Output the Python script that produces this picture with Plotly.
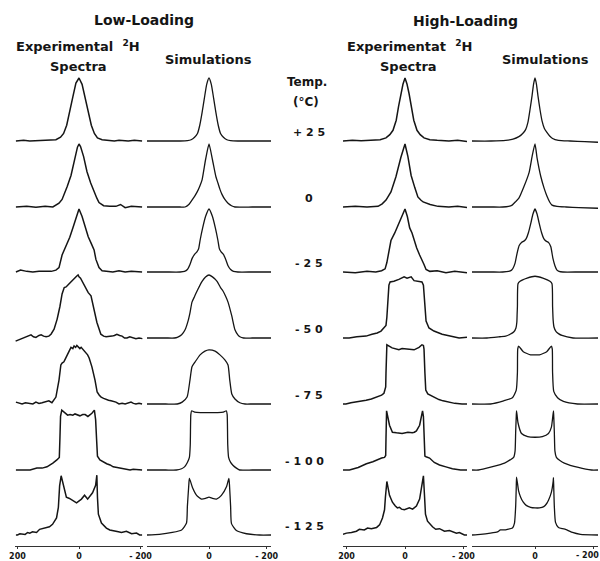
import plotly.graph_objects as go

# ---------------- data (frequency in kHz, normalised intensity) ----------------
TEMPS_C = ["+25", "0", "-25", "-50", "-75", "-100", "-125"]

# Low-loading, experimental 2H spectra
LE1_F = [205, 180, 160, 130, 95, 75, 60, 50, 40, 30, 20, 10, 0, -10, -20, -30, -40, -50, -60, -75, -95, -115, -130, -160, -180, -205]
LE1_H = [0, .01, .0, .01, .01, .02, .06, .12, .25, .45, .7, .92, 1, .9, .68, .45, .25, .12, .05, .02, .01, .0, .01, .0, .01, 0]
LE2_F = [205, 170, 140, 110, 85, 65, 55, 49, 38, 26, 15, 5, 0, -5, -15, -26, -38, -49, -58, -65, -80, -100, -120, -135, -150, -170, -205]
LE2_H = [0, .01, -.005, .01, .0, .06, .12, .19, .33, .5, .75, .95, 1, .96, .8, .56, .38, .24, .14, .07, .02, .01, .01, .04, -.01, .01, 0]
LE3_F = [205, 190, 170, 150, 130, 110, 90, 75, 65, 55, 42, 30, 20, 10, 0, -10, -20, -30, -40, -49, -55, -65, -75, -90, -110, -130, -150, -170, -205]
LE3_H = [0, .03, .01, 0, .01, .01, .01, .03, .07, .27, .42, .55, .7, .87, 1, .88, .72, .56, .45, .35, .2, .07, .02, .01, 0, .02, 0, .01, 0]
LE4_F = [206, 201, 190, 179, 169, 156, 148, 140, 130, 123, 115, 107, 98, 91, 81, 71, 62, 55, 48, 42, 32, 25, 16, 8, 3, 0, -5, -10, -16, -23,
         -30, -39, -49, -58, -71, -80, -88, -98, -107, -115, -123, -132, -140, -148, -156, -165, -172, -185, -195, -206]
LE4_H = [-.05, -.04, -.01, .01, .03, .05, .02, .01, .04, .05, .03, .02, .03, .06, .14, .3, .5, .7, .8, .81, .86, .9, .94, .98, 1, .97, .95, .9, .84, .78,
         .72, .67, .46, .25, .06, .03, .02, .02, .03, .04, .06, .04, .03, 0, 0, .02, .01, -.01, 0, -.01]
LE5_F = [205, 195, 185, 174, 163, 150, 140, 130, 120, 108, 98, 88, 75, 65, 59, 55, 49, 44, 39, 32, 26, 20, 16, 11, 7, 2, -3, -7, -12, -16,
         -23, -28, -33, -42, -52, -59, -66, -72, -80, -88, -96, -104, -112, -120, -130, -140, -150, -160, -169, -177, -185, -195, -205]
LE5_H = [.03, .01, 0, .02, .01, 0, .03, .01, .02, .03, .05, .02, .11, .38, .62, .65, .67, .72, .78, .84, .9, .88, .92, .9, .93, .9, .88, .9, .87, .84,
         .8, .78, .73, .59, .38, .19, .14, .11, .09, .07, .06, .05, .04, .03, 0, .01, 0, .02, .03, .01, 0, .01, 0]
LE6_F = [205, 198, 182, 159, 137, 120, 104, 94, 85, 72, 64, 62, 60, 56, 45, 37, 29, 20, 13, 5, -3, -12, -20, -29, -36, -42, -50, -54, -57, -60,
         -68, -78, -90, -101, -111, -124, -143, -166, -176, -192, -205]
LE6_H = [0, 0, .01, 0, .03, .03, .05, .08, .11, .16, .2, .5, .85, .95, .9, .87, .88, .87, .89, .87, .86, .88, .88, .85, .87, .9, .95, .8, .5, .22,
         .16, .13, .1, .08, .05, .04, .02, 0, .01, 0, 0]
LE7_F = [205, 200, 192, 184, 175, 167, 160, 151, 138, 128, 119, 107, 96, 86, 73, 67, 63, 58, 47, 41, 31, 21, 8, -8, -18, -28, -44, -54, -58, -60,
         -63, -73, -89, -100, -115, -128, -138, -154, -171, -187, -197, -205]
LE7_H = [0, 0, .02, .02, .01, .04, .03, .05, .04, .09, .1, .11, .13, .17, .27, .44, .78, .94, .71, .6, .58, .55, .51, .57, .63, .57, .67, .79, .95, .6,
         .33, .19, .11, .08, .07, .05, .04, .06, .02, .03, 0, 0]

# Low-loading, simulations
LS1_F = [215, 150, 100, 75, 62, 50, 40, 32, 24, 16, 8, 0, -8, -16, -24, -32, -40, -50, -62, -75, -100, -150, -215]
LS1_H = [0, 0, 0, .005, .02, .06, .12, .25, .45, .68, .9, 1, .9, .68, .45, .25, .12, .06, .02, .005, 0, 0, 0]
LS2_F = [215, 150, 100, 83, 70, 59, 50, 41, 32, 24, 12, 0, -12, -24, -31, -38, -45, -55, -66, -78, -90, -150, -215]
LS2_H = [0, 0, 0, 0, .04, .11, .17, .24, .33, .43, .75, 1, .75, .48, .38, .28, .2, .12, .06, .02, 0, 0, 0]
LS3_F = [215, 150, 100, 85, 75, 66, 58, 50, 42, 36, 31, 22, 12, 0, -12, -22, -31, -36, -42, -50, -58, -66, -75, -85, -100, -150, -215]
LS3_H = [0, 0, 0, .01, .04, .12, .22, .28, .32, .37, .5, .7, .88, 1, .88, .7, .5, .37, .32, .28, .2, .1, .04, .01, 0, 0, 0]
LS4_F = [215, 150, 120, 110, 95, 83, 72, 66, 59, 50, 41, 24, 12, 0, -12, -28, -40, -48, -58, -66, -79, -90, -100, -107, -120, -150, -215]
LS4_H = [0, 0, 0, .01, .05, .13, .28, .4, .57, .66, .75, .9, .97, 1, .97, .9, .8, .75, .66, .57, .35, .13, .05, .02, 0, 0, 0]
LS5_F = [215, 150, 110, 93, 76, 66, 59, 48, 31, 14, 0, -21, -38, -55, -66, -72, -79, -90, -107, -125, -150, -215]
LS5_H = [0, 0, 0, .03, .11, .38, .59, .67, .78, .84, .86, .84, .78, .7, .62, .38, .16, .08, .02, 0, 0, 0]
LS6_F = [215, 150, 113, 95, 85, 75, 68, 65, 64, 63, 60, 50, 30, 0, -30, -50, -60, -63, -64, -65, -68, -75, -82, -95, -106, -150, -215]
LS6_H = [0, 0, 0, .02, .05, .12, .2, .4, .7, .88, .94, .92, .91, .91, .91, .92, .94, .88, .7, .4, .2, .12, .08, .03, 0, 0, 0]
LS7_F = [215, 172, 127, 95, 78, 75, 70, 68, 57, 43, 26, 12, 0, -12, -26, -43, -61, -69, -71, -75, -78, -95, -130, -175, -215]
LS7_H = [0, .01, .04, .08, .19, .45, .8, .9, .75, .63, .57, .58, .6, .58, .57, .63, .77, .9, .8, .45, .18, .07, .02, 0, 0]

# High-loading, experimental 2H spectra
HE1_F = [212, 180, 150, 110, 85, 65, 52, 41, 30, 22, 14, 7, 0, -7, -14, -22, -30, -41, -52, -65, -85, -110, -150, -180, -212]
HE1_H = [0, .01, .005, .01, .02, .05, .1, .17, .33, .55, .75, .9, 1, .9, .75, .55, .33, .17, .1, .05, .02, .01, 0, .01, -.01]
HE2_F = [212, 170, 130, 110, 92, 78, 65, 48, 31, 14, 0, -10, -21, -34, -44, -54, -62, -86, -113, -150, -180, -212]
HE2_H = [0, .01, 0, .01, .01, .05, .11, .24, .48, .79, 1, .8, .5, .3, .16, .11, .08, .04, .01, 0, .01, -.01]
HE3_F = [212, 170, 130, 100, 80, 68, 62, 55, 48, 35, 20, 8, 0, -8, -16, -24, -31, -40, -50, -58, -65, -72, -85, -110, -140, -170, -212]
HE3_H = [0, -.01, .01, 0, .02, .05, .15, .3, .5, .62, .78, .93, 1, .88, .7, .62, .5, .38, .27, .2, .12, .04, .01, .02, -.01, .01, -.01]
HE4_F = [212, 191, 165, 133, 113, 95, 82, 72, 65, 62, 60, 58, 55, 51, 38, 21, 3, -7, -21, -31, -41, -58, -63, -66, -68, -72, -82, -99, -127, -161, -185, -212]
HE4_H = [0, 0, .02, .03, .06, .08, .11, .16, .2, .33, .5, .65, .84, .89, .9, .93, .97, .95, .97, .91, .9, .89, .84, .65, .5, .27, .16, .11, .06, .03, 0, .01]
HE5_F = [212, 202, 185, 168, 150, 133, 115, 99, 80, 72, 66, 65, 64, 62, 44, 30, 21, 10, -3, -15, -31, -48, -58, -63, -65, -68, -71, -78, -89, -100,
         -116, -130, -150, -170, -195, -212]
HE5_H = [0, 0, .02, .03, .04, .06, .08, .11, .14, .17, .27, .49, .85, .94, .89, .87, .86, .88, .87, .87, .86, .9, .94, .93, .87, .5, .22, .16, .13, .1,
         .07, .05, .03, .01, 0, 0]
HE6_F = [212, 190, 160, 132, 110, 97, 80, 70, 66, 65, 64, 63, 53, 43, 29, 10, -10, -25, -32, -39, -50, -60, -63, -65, -66, -68, -72, -84, -100, -118,
         -140, -162, -190, -212]
HE6_H = [0, 0, .04, .1, .13, .16, .19, .2, .23, .5, .85, .94, .71, .6, .59, .58, .6, .59, .6, .62, .71, .94, .85, .5, .3, .22, .21, .19, .12, .08,
         .05, .02, 0, 0]
HE7_F = [212, 200, 183, 166, 156, 139, 128, 115, 97, 87, 77, 70, 67, 62, 53, 43, 33, 26, 19, 12, 2, -8, -15, -26, -39, -50, -56, -63, -67, -70,
         -77, -94, -105, -118, -135, -152, -176, -186, -203, -212]
HE7_H = [.01, .03, .04, .06, .09, .08, .11, .1, .12, .16, .27, .4, .6, .85, .63, .52, .46, .43, .44, .41, .4, .42, .43, .41, .46, .57, .75, .94, .6, .33,
         .22, .13, .09, .1, .06, .07, .03, .04, 0, 0]

# High-loading, simulations
HS1_F = [215, 150, 100, 75, 55, 42, 32, 24, 17, 10, 5, 0, -5, -10, -17, -24, -32, -40, -50, -60, -80, -120, -170, -215]
HS1_H = [0, 0, .01, .03, .07, .12, .18, .3, .5, .72, .9, 1, .9, .72, .5, .32, .2, .14, .08, .04, .01, 0, -.01, -.02]
HS2_F = [215, 150, 110, 90, 78, 65, 55, 38, 20, 10, 0, -7, -20, -31, -41, -50, -58, -75, -106, -150, -215]
HS2_H = [0, 0, 0, .01, .03, .09, .14, .32, .55, .8, 1, .78, .48, .3, .17, .08, .03, .01, 0, -.01, -.02]
HS3_F = [215, 150, 110, 90, 80, 75, 68, 61, 54, 46, 38, 30, 22, 14, 7, 0, -7, -14, -22, -30, -38, -46, -54, -61, -68, -75, -82, -95, -150, -215]
HS3_H = [0, 0, 0, .01, .03, .06, .14, .3, .42, .47, .49, .53, .63, .78, .92, 1, .92, .78, .63, .53, .49, .47, .4, .22, .1, .03, .01, 0, 0, 0]
HS4_F = [215, 164, 120, 100, 85, 72, 65, 62, 61, 60, 58, 51, 27, 0, -27, -51, -58, -60, -62, -65, -72, -80, -92, -130, -215]
HS4_H = [0, 0, .02, .03, .06, .1, .16, .25, .38, .5, .86, .9, .95, .98, .95, .9, .86, .5, .28, .17, .1, .07, .04, 0, 0]
HS5_F = [215, 152, 107, 77, 64, 60, 59, 56, 40, 15, 0, -15, -40, -56, -59, -60, -64, -77, -97, -145, -215]
HS5_H = [0, 0, .05, .1, .22, .5, .87, .92, .83, .78, .78, .78, .83, .92, .87, .5, .2, .1, .04, 0, 0]
HS6_F = [215, 193, 148, 104, 85, 73, 68, 66, 64, 63, 58, 46, 25, 0, -25, -46, -56, -63, -64, -66, -68, -73, -85, -100, -148, -193, -215]
HS6_H = [0, 0, .05, .11, .16, .2, .3, .6, .85, .94, .75, .58, .53, .52, .53, .58, .68, .94, .85, .6, .3, .2, .15, .11, .04, 0, 0]
HS7_F = [215, 186, 152, 128, 118, 104, 94, 77, 70, 66, 64, 63, 56, 49, 40, 30, 15, 0, -15, -30, -40, -46, -56, -62, -63, -64, -66, -70, -80, -94,
         -104, -114, -128, -155, -215]
HS7_H = [0, .01, .03, .05, .08, .08, .09, .11, .19, .45, .75, .92, .7, .6, .52, .47, .44, .43, .43, .45, .5, .55, .68, .85, .91, .75, .45, .2, .12, .1,
         .09, .07, .04, .01, 0]

# axis tick labels (kHz)
TICKS_COL = [[200, 0, -200], [0, -200], [200, 0, -200], [0]]
EDGE_TICK = -200          # last column: tick at -200, label nudged inside the page

# ---------------- assemble ----------------
G = globals()
COLUMN_KEYS = ["LE", "LS", "HE", "HS"]

W, H = 600, 561
COL_PX = [(15, 143), (147, 271), (343, 467), (472, 598)]
COL_RANGE = [(208, -208), (215, -215), (212, -212), (215, -215)]
BASE_PX = [141, 207, 272, 338, 404, 470, 535]
UNIT = 63.0
YHI = 1.08
INK = "#151515"


def klabel(v):
    return ("- " + str(-v)) if v < 0 else str(v)


fig = go.Figure()

for c, key in enumerate(COLUMN_KEYS):
    experimental = key.endswith("E")
    for r in range(7):
        f = G[f"{key}{r + 1}_F"]
        h = G[f"{key}{r + 1}_H"]
        assert len(f) == len(h), (key, r, len(f), len(h))
        fig.add_trace(go.Scatter(
            x=f, y=h, mode="lines",
            xaxis="x" if c == 0 else f"x{c + 1}",
            yaxis="y" if r == 0 else f"y{r + 1}",
            line=dict(color=INK, width=1.5 if experimental else 1.3,
                      shape="linear" if experimental else "spline",
                      smoothing=0.5),
            hoverinfo="skip", showlegend=False,
        ))

layout = dict(
    width=W, height=H, margin=dict(l=0, r=0, t=0, b=0, pad=0, autoexpand=False),
    paper_bgcolor="white", plot_bgcolor="rgba(0,0,0,0)", showlegend=False,
    font=dict(family="DejaVu Sans", color=INK),
)

for c in range(4):
    x0, x1 = COL_PX[c]
    name = "xaxis" if c == 0 else f"xaxis{c + 1}"
    tv = TICKS_COL[c]
    ax = dict(
        domain=[x0 / W, x1 / W], range=list(COL_RANGE[c]), anchor="y7",
        automargin=False, ticklabeloverflow="allow",
        showgrid=False, zeroline=False, showline=True, linecolor="#333",
        linewidth=1, ticks="outside", ticklen=2, tickwidth=1, tickcolor="#333",
        tickvals=tv, ticktext=[klabel(v) for v in tv],
        tickfont=dict(family="DejaVu Sans", size=8, color=INK, weight="bold"),
        fixedrange=True,
    )
    if c == 3:
        ax["minor"] = dict(tickvals=[EDGE_TICK], ticks="outside", ticklen=2,
                           tickwidth=1, tickcolor="#333", showgrid=False)
    layout[name] = ax

for r in range(7):
    b = BASE_PX[r]
    ylo = -0.18 if r == 6 else -0.08
    name = "yaxis" if r == 0 else f"yaxis{r + 1}"
    bottom = 1 - (b - ylo * UNIT) / H
    top = 1 - (b - YHI * UNIT) / H
    layout[name] = dict(domain=[bottom, top], range=[ylo, YHI], visible=False,
                        automargin=False, anchor="x", fixedrange=True)

fig.update_layout(**layout)

# label of the -200 tick in the last column, kept inside the page
fig.add_annotation(text=klabel(EDGE_TICK), x=EDGE_TICK, xref="x4",
                   y=1 - 549 / H, yref="paper", xanchor="center", yanchor="top",
                   xshift=-6, showarrow=False,
                   font=dict(family="DejaVu Sans", size=8, color=INK, weight="bold"))


def note(text, xpx, ypx, size, anchor="center"):
    fig.add_annotation(text=text, x=xpx / W, y=1 - ypx / H, xref="paper", yref="paper",
                       showarrow=False, xanchor=anchor, yanchor="middle",
                       font=dict(family="DejaVu Sans", size=size, color=INK, weight="bold"))


note("Low-Loading", 144, 20, 14)
note("High-Loading", 465, 21, 14)
note("Experimental  <sup>2</sup>H", 78, 46, 13)
note("Spectra", 79, 67, 13)
note("Simulations", 208, 60, 13)
note("Experimentat  <sup>2</sup>H", 409, 46, 13)
note("Spectra", 408, 67, 13)
note("Simulations", 545, 60, 13)
note("Temp.", 307, 82, 12)
note("(°C)", 306, 102, 12)

for r, t in enumerate(TEMPS_C):
    spaced = " ".join(t)
    xc = 304 if len(t) > 3 else 309
    note(spaced, xc, BASE_PX[r] - 9, 11)

fig.write_html(
    "out.html",
    config={"displayModeBar": False},
    post_script="document.body.style.margin='0';document.body.style.padding='0';"
                "document.body.style.overflow='hidden';",
)
